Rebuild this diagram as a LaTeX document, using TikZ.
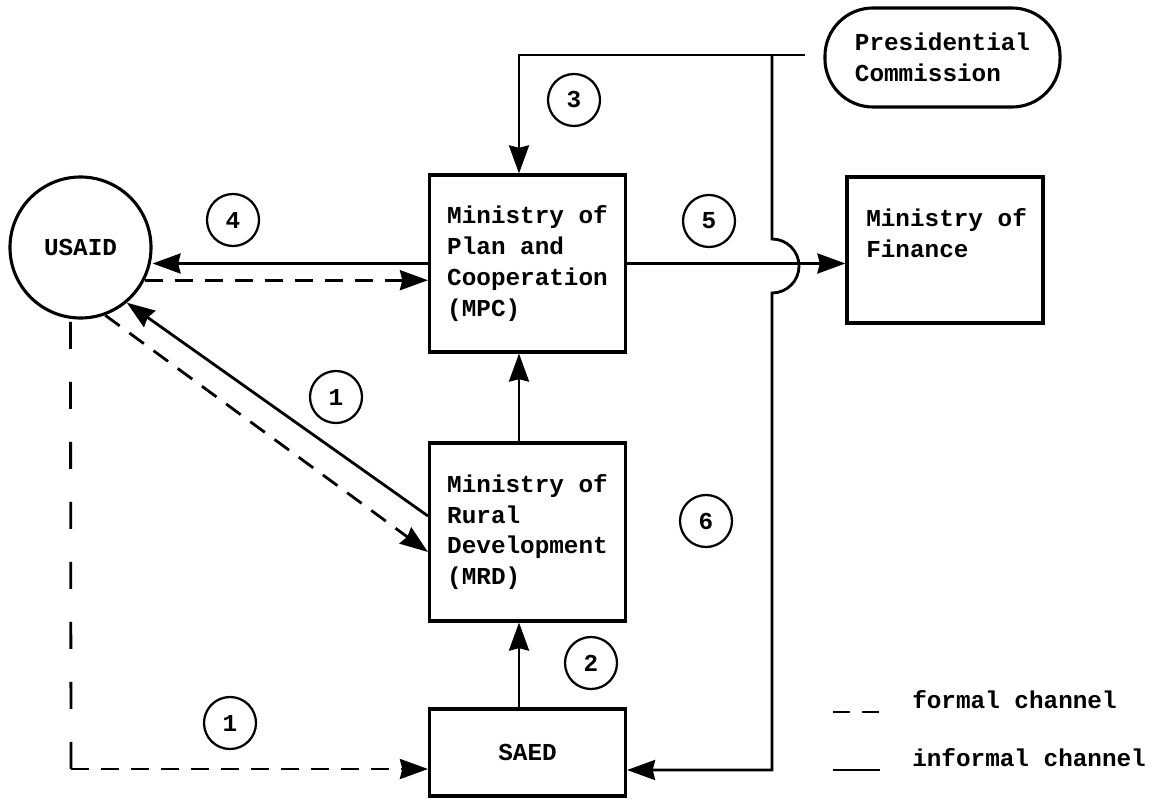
\documentclass[tikz,border=0pt]{standalone}
\usepackage{fontspec}
\setmonofont{Liberation Mono}
\usetikzlibrary{arrows.meta,
	calc,
	positioning}

\newcommand{\chartfont}{\ttfamily\bfseries\fontsize{17.3}{22}\selectfont}

\begin{document}
\begin{tikzpicture}[x=0.025cm,y=-0.025cm]
      \tikzstyle{office}=[draw,line width=2.2pt,align=left,minimum width=4.9cm,minimum height=4.425cm,font=\chartfont]
      \tikzstyle{numtag}=[circle,draw,line width=1.6pt,minimum size=1.3cm,inner sep=0pt,font=\chartfont]
      \tikzstyle{wire}=[line width=2pt]
      \tikzstyle{link}=[wire,-{Stealth[length=0.7cm,width=0.5cm,inset=0.06cm]}]
      \tikzstyle{formal}=[link,dash pattern=on 0.45cm off 0.3cm]
      \useasboundingbox (0,0) rectangle (1155,799);
      % boxes
      \node[office] (mpc) at (527.5,263.5) {Ministry of\\Plan and\\Cooperation\\(MPC)};
      \node[office,minimum height=4.45cm] (mrd) at (527.5,532) {Ministry of\\Rural\\Development\\(MRD)};
      \node[office,minimum height=2.175cm,align=center] (saed) at (527.5,752.5) {SAED};
      \node[office,minimum height=3.65cm] (mof) at (945,250) {};
      \node[font=\chartfont,align=left,anchor=north west,inner sep=0pt] (moftext) at (866,208) {Ministry of\\Finance};
      \node[draw,line width=2.2pt,rounded corners=1.2cm,minimum width=5.875cm,minimum height=2.475cm,align=left,font=\chartfont] (pc) at (942.5,57.5) {Presidential\\Commission};
      \node[circle,draw,line width=2.2pt,minimum size=3.525cm,font=\chartfont] (usaid) at (80.5,247.5) {USAID};
      % step numbers
      \node[numtag] (n3) at (574,100) {3};
      \node[numtag] (n4) at (233,220) {4};
      \node[numtag] (n5) at (709,221) {5};
      \node[numtag] (n1a) at (336,397) {1};
      \node[numtag] (n6) at (706,521) {6};
      \node[numtag] (n2) at (591,663) {2};
      \node[numtag] (n1b) at (230,723) {1};
      \coordinate (axis) at (519,0);
      \coordinate (pcin) at (805,55);
      \coordinate (bend3) at (519,55);
      \coordinate (split) at (772,55);
      \coordinate (hop) at (772,239);
      \coordinate (bend6) at (772,770);
      \coordinate (bend1) at (71,769);
      % presidential commission
      \draw[link] (pcin) -- (bend3) -- (mpc.north -| axis);
      \draw[link] (split) -- (hop) arc[start angle=90,end angle=-90,radius=0.675cm] -- (bend6) -- (bend6 -| saed.east);
      % ministries
      \draw[link] (saed.north -| axis) -- (mrd.south -| axis);
      \draw[link] (mrd.north -| axis) -- (mpc.south -| axis);
      \draw[link] (mpc.east) -- (mpc.east -| mof.west);
      % usaid
      \draw[link] (mpc.west) -- (mpc.west -| usaid.east);
      \draw[formal] (usaid.-27) -- (usaid.-27 -| mpc.west);
      \draw[link] ($(mrd.west)+(0,-16)$) -- (usaid.-50);
      \draw[formal] (usaid.-70) -- ($(mrd.west)+(0,20)$);
      \draw[wire,dash pattern=on 0.675cm off 0.825cm] (bend1) -- (usaid.-98);
      \draw[formal] (bend1) -- (bend1 -| saed.west);
      % key
      \coordinate (keyf) at (833,712);
      \coordinate (keyi) at (833,770);
      \draw[wire,dash pattern=on 0.425cm off 0.3cm] (keyf) -- ++(47,0);
      \draw[wire] (keyi) -- ++(47,0);
      \node[anchor=west,inner sep=0pt,font=\chartfont] (keyftext) at (912,700) {formal channel};
      \node[anchor=west,inner sep=0pt,font=\chartfont] (keyitext) at (912,758) {informal channel};
    \end{tikzpicture}
\end{document}
